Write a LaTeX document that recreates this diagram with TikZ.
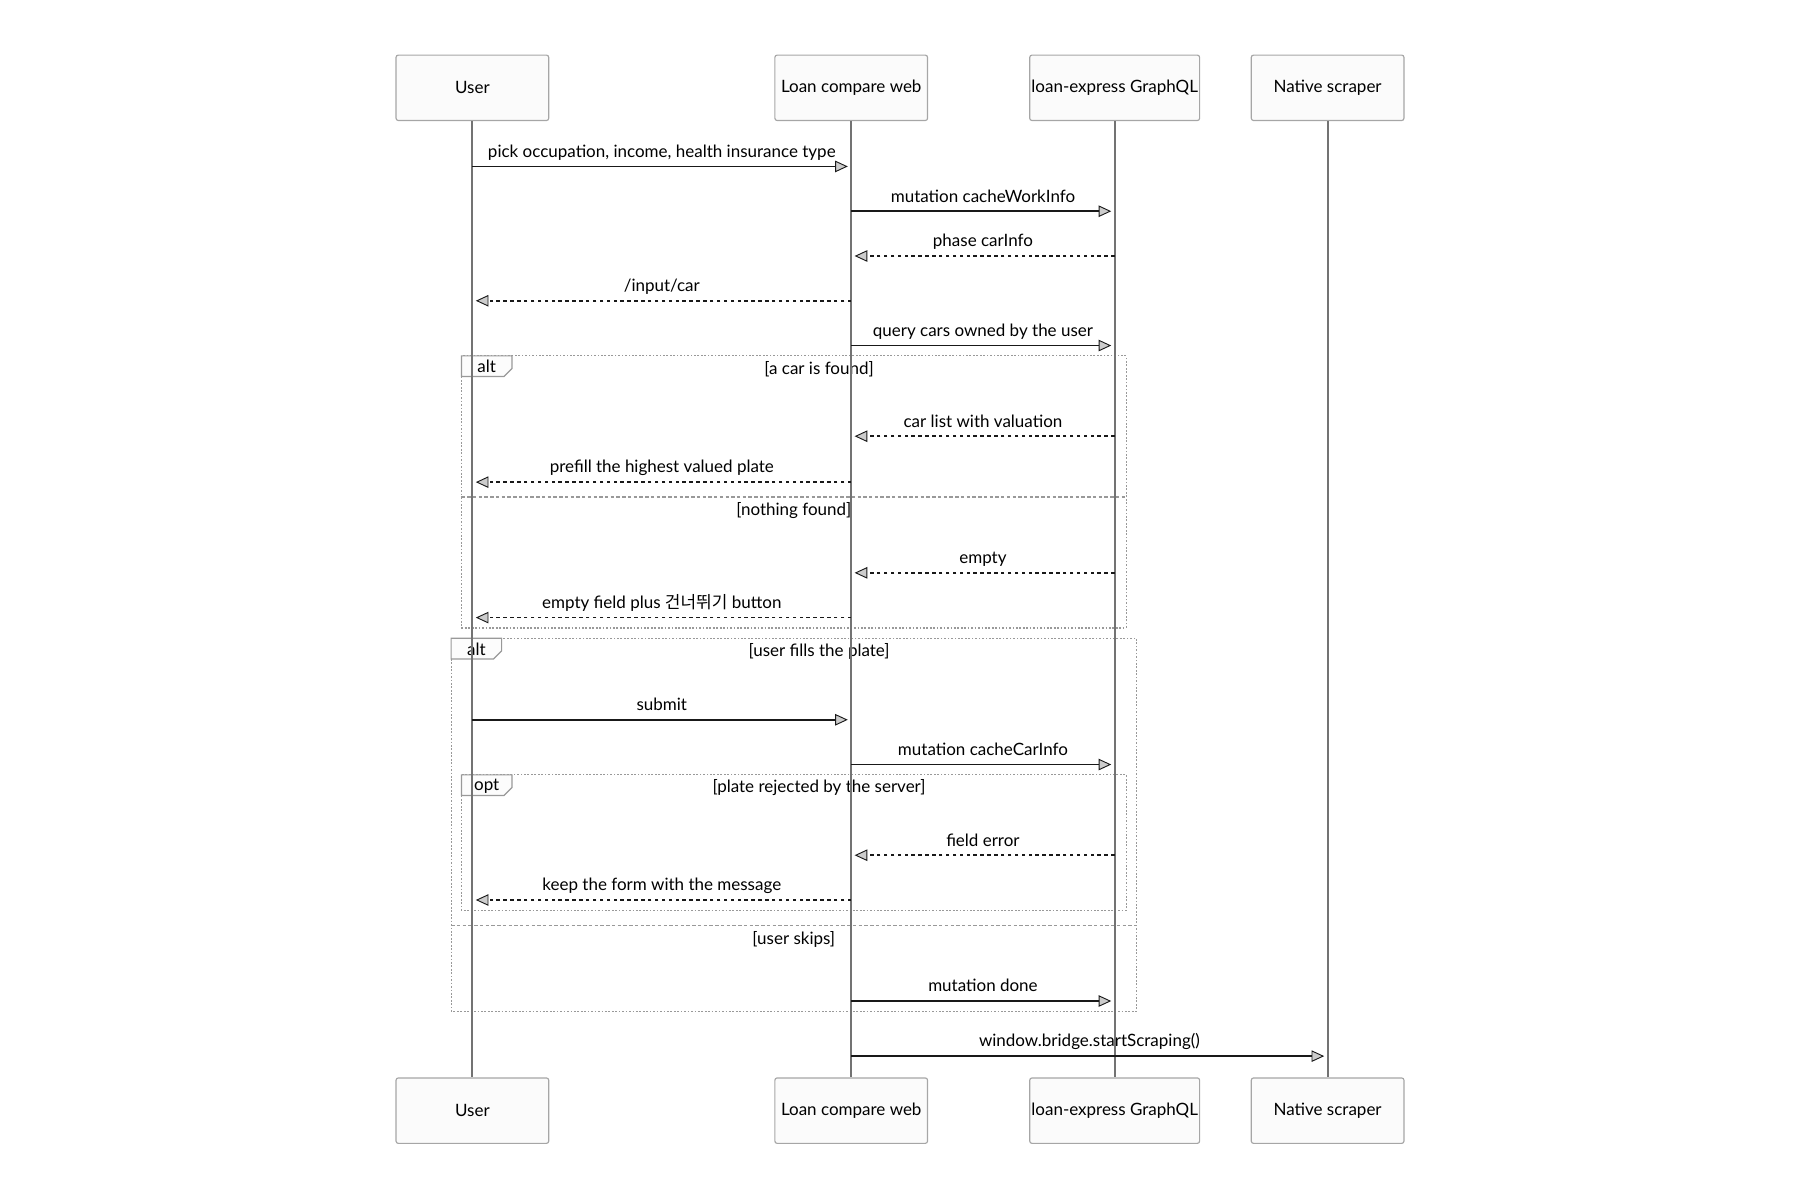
\documentclass[tikz,border=0pt]{standalone}
\usepackage{fontspec}
\setmainfont{Lato}
\newfontfamily\kofont{Noto Sans CJK KR}
\usetikzlibrary{arrows.meta}

\begin{document}
\begin{tikzpicture}[x=1pt, y=-1pt,
    font=\fontsize{14.8}{17}\selectfont,
    actor/.style = {shape = rectangle,
                    rounded corners = 2pt,
                    draw = gray!70,
                    fill = gray!3,
                    line width = 1pt,
                    minimum width = 133pt,
                    minimum height = 57pt,
                    inner sep = 0pt},
    life/.style = {draw = gray!90!black, line width = 1.6pt},
    call/.style = {draw = black!90, line width = 1.4pt, shorten >= 3pt,
                   -{Triangle[length=11pt, width=10pt, fill=black!20, line width=0.8pt]}},
    reply/.style = {call, dash pattern = on 3pt off 3pt},
    txt/.style = {midway, anchor = base, yshift = 8pt, inner sep = 0pt},
    frame/.style = {draw = gray!80, line width = 1pt, dash pattern = on 1.5pt off 1.5pt},
    sep/.style = {draw = gray!80, line width = 1pt, dash pattern = on 3pt off 2pt},
    tab/.style = {draw = gray!80, fill = gray!2, line width = 1pt}]
    \useasboundingbox (0,0) rectangle (1568,1045.3);

    % actors
    \node[actor] (usertop) at (411.5,76.5) {User};
    \node[actor] (webtop) at (741.5,76.5) {Loan compare web};
    \node[actor, minimum width = 148pt] (gqltop) at (971,76.5) {loan-express GraphQL};
    \node[actor] (nattop) at (1156.5,76.5) {Native scraper};
    \node[actor] (userbot) at (411.5,967.5) {User};
    \node[actor] (webbot) at (741.5,967.5) {Loan compare web};
    \node[actor, minimum width = 148pt] (gqlbot) at (971,967.5) {loan-express GraphQL};
    \node[actor] (natbot) at (1156.5,967.5) {Native scraper};

    % frames
    \draw[frame] (402,310) rectangle (981,547);
    \draw[sep] (402,433) -- (981,433);
    \draw[tab] (402,310) -- (446,310) -- (446,321) -- (439,328) -- (402,328) -- cycle;
    \node at (424,319.5) {alt};
    \node[anchor = base] at (713.5,326) {[a car is found]};
    \node[anchor = base] at (691.5,449) {[nothing found]};

    \draw[frame] (393,556) rectangle (990,881);
    \draw[sep] (393,806) -- (990,806);
    \draw[tab] (393,556) -- (437,556) -- (437,567) -- (430,574) -- (393,574) -- cycle;
    \node at (415,565.5) {alt};
    \node[anchor = base] at (713.5,572) {[user fills the plate]};
    \node[anchor = base] at (691.5,823) {[user skips]};

    \draw[frame] (402,675) rectangle (981,793);
    \draw[tab] (402,675) -- (446,675) -- (446,686) -- (439,693) -- (402,693) -- cycle;
    \node at (424,684.5) {opt};
    \node[anchor = base] at (713.5,690) {[plate rejected by the server]};

    % lifelines
    \draw[life] (usertop) -- (userbot);
    \draw[life] (webtop) -- (webbot);
    \draw[life] (gqltop) -- (gqlbot);
    \draw[life] (nattop) -- (natbot);

    % messages
    \coordinate (m1) at (0,145);
    \coordinate (m2) at (0,184);
    \coordinate (m3) at (0,223);
    \coordinate (m4) at (0,262);
    \coordinate (m5) at (0,301);
    \coordinate (m6) at (0,380);
    \coordinate (m7) at (0,420);
    \coordinate (m8) at (0,499);
    \coordinate (m9) at (0,538);
    \coordinate (m10) at (0,627);
    \coordinate (m11) at (0,666);
    \coordinate (m12) at (0,745);
    \coordinate (m13) at (0,784);
    \coordinate (m14) at (0,872);
    \coordinate (m15) at (0,920);
    \draw[call] (usertop |- m1) -- (webtop |- m1) node[txt] {pick occupation, income, health insurance type};
    \draw[call] (webtop |- m2) -- (gqltop |- m2) node[txt] {mutation cacheWorkInfo};
    \draw[reply] (gqltop |- m3) -- (webtop |- m3) node[txt] {phase carInfo};
    \draw[reply] (webtop |- m4) -- (usertop |- m4) node[txt] {/input/car};
    \draw[call] (webtop |- m5) -- (gqltop |- m5) node[txt] {query cars owned by the user};
    \draw[reply] (gqltop |- m6) -- (webtop |- m6) node[txt] {car list with valuation};
    \draw[reply] (webtop |- m7) -- (usertop |- m7) node[txt] {prefill the highest valued plate};
    \draw[reply] (gqltop |- m8) -- (webtop |- m8) node[txt] {empty};
    \draw[reply] (webtop |- m9) -- (usertop |- m9) node[txt] {empty field plus {\kofont 건너뛰기} button};
    \draw[call] (usertop |- m10) -- (webtop |- m10) node[txt] {submit};
    \draw[call] (webtop |- m11) -- (gqltop |- m11) node[txt] {mutation cacheCarInfo};
    \draw[reply] (gqltop |- m12) -- (webtop |- m12) node[txt] {field error};
    \draw[reply] (webtop |- m13) -- (usertop |- m13) node[txt] {keep the form with the message};
    \draw[call] (webtop |- m14) -- (gqltop |- m14) node[txt] {mutation done};
    \draw[call] (webtop |- m15) -- (nattop |- m15) node[txt] {window.bridge.startScraping()};
\end{tikzpicture}
\end{document}
